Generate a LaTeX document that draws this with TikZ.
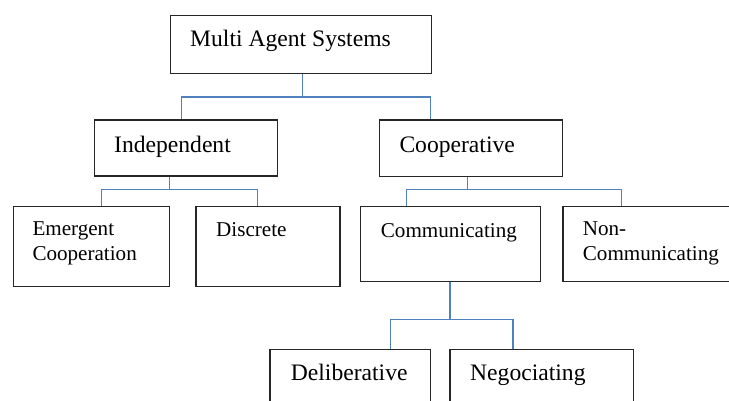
\documentclass[tikz,border=0pt]{standalone}
\usepackage{fontspec}
\setmainfont{Liberation Serif}
\definecolor{linkblue}{HTML}{4F81BD}
\begin{document}
\begin{tikzpicture}
  [x=1pt,y=-1pt,
   box/.style={draw=black!85,line width=1.3pt,rectangle,anchor=north west,inner sep=0pt},
   big/.style={anchor=base west,inner sep=0pt,font=\fontsize{23.6}{28}\selectfont},
   small/.style={anchor=base west,inner sep=0pt,align=left,font=\fontsize{21.1}{24.7}\selectfont},
   link/.style={draw=linkblue,line width=1.6pt}]
  \useasboundingbox (0,0) rectangle (729,401);
  \clip (0,0) rectangle (729,401);

  % boxes
  \node[box,minimum width=261pt,minimum height=58pt]   (ms)   at (169.5,15)  {};
  \node[box,minimum width=183pt,minimum height=56pt]   (ind)  at (93.5,119.5) {};
  \node[box,minimum width=183pt,minimum height=56.5pt] (coop) at (379,119.5)  {};
  \node[box,minimum width=156.3pt,minimum height=80pt] (emc)  at (12.7,205.7) {};
  \node[box,minimum width=144pt,minimum height=80pt]   (dis)  at (195.3,205.7) {};
  \node[box,minimum width=180pt,minimum height=75.3pt] (com)  at (360,205.7)  {};
  \node[box,minimum width=180pt,minimum height=75.3pt] (non)  at (562.3,205.7) {};
  \node[box,minimum width=160.7pt,minimum height=76pt] (del)  at (269.3,349)  {};
  \node[box,minimum width=183.4pt,minimum height=76pt] (neg)  at (449.3,349)  {};

  % labels (two-line ones sit on their last line)
  \node[big]   (msT)   at (190,47)      {Multi Agent Systems};
  \node[big]   (indT)  at (114,152.7)   {Independent};
  \node[big]   (coopT) at (399.3,152.7) {Cooperative};
  \node[small] (emcT)  at (32.3,260.7)  {Emergent\\Cooperation};
  \node[small] (disT)  at (216,236.7)   {Discrete};
  \node[small] (comT)  at (380.7,237.7) {Communicating};
  \node[small] (nonT)  at (582.7,260.7) {Non-\\Communicating};
  \node[big]   (delT)  at (290.7,380)   {Deliberative};
  \node[big]   (negT)  at (470,380)     {Negociating};

  % connectors
  \foreach \src/\sx/\dy/\dst/\dx in {ms/1.7/22.7/ind/-4.3,ms/1.7/22.7/coop/-40.5,
      ind/-16/12.8/emc/9.85,ind/-16/12.8/dis/-10.6,
      coop/-3.8/12.3/com/-44.3,coop/-3.8/12.3/non/-31.3,
      com/-0.7/37.3/del/40.35,com/-0.7/37.3/neg/-28.7}
    \draw[link] ([xshift=\sx pt]\src.south) -- ++(0,\dy) -| ([xshift=\dx pt]\dst.north);
\end{tikzpicture}
\end{document}
